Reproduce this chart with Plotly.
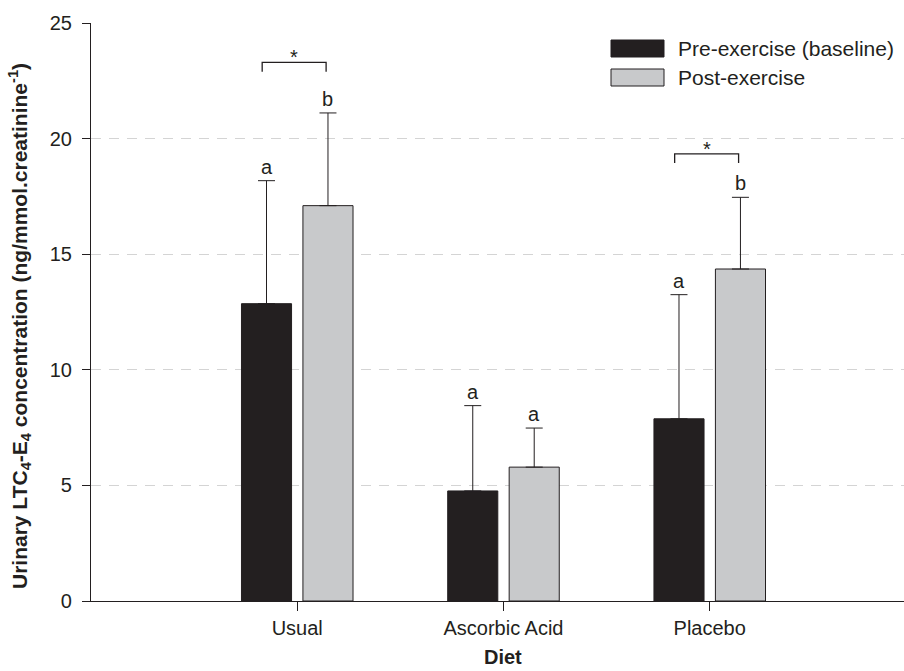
import plotly.graph_objects as go

# ---------------- data ----------------
categories = ["Usual", "Ascorbic Acid", "Placebo"]
pre_mean = [12.86, 4.76, 7.88]
post_mean = [17.10, 5.79, 14.36]
pre_sd = [5.32, 3.69, 5.37]
post_sd = [4.01, 1.69, 3.10]
pre_letters = ["a", "a", "a"]
post_letters = ["b", "a", "b"]
# significance brackets: (category index, bracket top value, leg bottom value)
bracket_cat = [0, 2]
bracket_top = [23.30, 19.34]
bracket_leg = [22.89, 18.95]
series_names = ["Pre-exercise (baseline)", "Post-exercise"]
y_ticks = [0, 5, 10, 15, 20, 25]

# ---------------- style ----------------
FONT = "Liberation Sans, Arial, Helvetica, sans-serif"
DARK = "#231f20"
GRAY = "#c8c9cb"
W, H = 904, 671
ML, MR, MT, MB = 91, 0, 23, 70
PW, PH = W - ML - MR, H - MT - MB
BARGAP, GROUPGAP = 0.404, 0.185
OFF = (1 - BARGAP) / 4  # offset of each bar centre from category centre


def px_x(px):
    return (px - ML) / PW


def px_y(py):
    return (H - MB - py) / PH


fig = go.Figure()
fig.add_trace(go.Bar(
    x=categories, y=pre_mean, name=series_names[0],
    marker=dict(color=DARK, line=dict(color=DARK, width=1)),
    error_y=dict(type="data", array=pre_sd, arrayminus=[0] * 3, symmetric=False,
                 color=DARK, thickness=1, width=8.5),
    showlegend=False,
))
fig.add_trace(go.Bar(
    x=categories, y=post_mean, name=series_names[1],
    marker=dict(color=GRAY, line=dict(color=DARK, width=1)),
    error_y=dict(type="data", array=post_sd, arrayminus=[0] * 3, symmetric=False,
                 color=DARK, thickness=1, width=8.5),
    showlegend=False,
))

annotations = []
shapes = []
# letters above error bars
for i in range(len(categories)):
    annotations.append(dict(x=i - OFF, y=pre_mean[i] + pre_sd[i], xref="x", yref="y",
                            text=pre_letters[i], showarrow=False, yanchor="bottom",
                            yshift=1, font=dict(size=20, color=DARK, family=FONT)))
    annotations.append(dict(x=i + OFF, y=post_mean[i] + post_sd[i], xref="x", yref="y",
                            text=post_letters[i], showarrow=False, yanchor="bottom",
                            yshift=1, font=dict(size=20, color=DARK, family=FONT)))

# significance brackets
for c, yt, yl in zip(bracket_cat, bracket_top, bracket_leg):
    x0, x1 = c - 0.17, c + 0.14
    shapes.append(dict(type="path", xref="x", yref="y",
                       path=f"M {x0},{yl} L {x0},{yt} L {x1},{yt} L {x1},{yl}",
                       line=dict(color=DARK, width=1.3)))
    annotations.append(dict(x=(x0 + x1) / 2, y=yt, xref="x", yref="y", text="*",
                            showarrow=False, yanchor="bottom", yshift=-8,
                            font=dict(size=20, color=DARK, family=FONT)))

# legend (drawn manually to match box shapes)
legend_rows = [(40, 57, DARK), (69, 86, GRAY)]
for (ya, yb, col), name in zip(legend_rows, series_names):
    shapes.append(dict(type="rect", xref="paper", yref="paper",
                       x0=px_x(611), x1=px_x(664), y0=px_y(yb), y1=px_y(ya),
                       fillcolor=col, line=dict(color=DARK, width=1)))
    annotations.append(dict(x=px_x(676), y=px_y((ya + yb) / 2), xref="paper", yref="paper",
                            text=name, showarrow=False, xanchor="left", yanchor="middle",
                            font=dict(size=21, color=DARK, family=FONT)))

# axis titles
annotations.append(dict(x=px_x(20), y=px_y(326), xref="paper", yref="paper",
                        text="<b>Urinary LTC<sub>4</sub>-E<sub>4</sub> concentration "
                             "(ng/mmol.creatinine<sup>-1</sup>)</b>",
                        textangle=-90, showarrow=False, xanchor="center", yanchor="middle",
                        font=dict(size=21, color=DARK, family=FONT)))
annotations.append(dict(x=1, y=px_y(657), xref="x", yref="paper", text="<b>Diet</b>",
                        showarrow=False, xanchor="center", yanchor="middle",
                        font=dict(size=20, color=DARK, family=FONT)))

fig.update_layout(
    width=W, height=H,
    margin=dict(l=ML, r=MR, t=MT, b=MB, pad=0),
    paper_bgcolor="white", plot_bgcolor="white",
    barmode="group", bargap=BARGAP, bargroupgap=GROUPGAP,
    font=dict(family=FONT, size=20, color=DARK),
    annotations=annotations, shapes=shapes,
    showlegend=False,
)
fig.update_xaxes(
    type="category", range=[-1.0, 2.942], showline=True, linecolor=DARK, linewidth=1.2,
    ticks="outside", ticklen=9, tickcolor=DARK, tickwidth=1,
    showgrid=False, zeroline=False,
    tickfont=dict(size=20, color=DARK, family=FONT),
)
fig.update_yaxes(
    range=[0, 25], tickvals=y_ticks, showline=True, linecolor=DARK, linewidth=1.2,
    ticks="outside", ticklen=8, tickcolor=DARK, tickwidth=1,
    showgrid=True, gridcolor="#d4d4d4", griddash="10px,8px", gridwidth=1,
    zeroline=False, ticklabelstandoff=6,
    tickfont=dict(size=20, color=DARK, family=FONT),
)

fig.write_html("out.html")
